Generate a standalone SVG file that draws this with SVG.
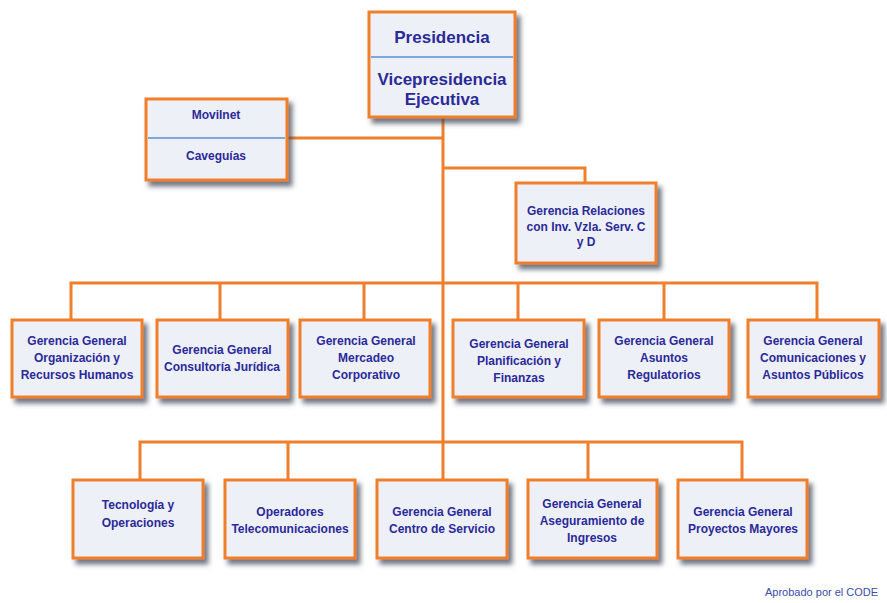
<svg xmlns="http://www.w3.org/2000/svg" width="887" height="603" viewBox="0 0 887 603">
<defs>
<filter id="sh" x="-10%" y="-10%" width="130%" height="130%">
<feDropShadow dx="4" dy="5" stdDeviation="2.5" flood-color="#404858" flood-opacity="0.75"/>
</filter>
<style>
.box{fill:#eef0f8;stroke:#f07f2c;stroke-width:3;filter:url(#sh)}
.div{stroke:#5a8fd0;stroke-width:1.5}
.t{font-family:"Liberation Sans",Arial,sans-serif;font-weight:bold;font-size:12px;fill:#2a2a98;text-anchor:middle}
.big{font-size:17px}
.c{fill:none;stroke:#f07f2c;stroke-width:3}
.foot{font-family:"Liberation Sans",Arial,sans-serif;font-size:11px;fill:#3b4ba8}
</style>
</defs>
<rect width="887" height="603" fill="#ffffff"/>
<g id="connectors">
<path class="c" d="M443 117 V442"/>
<path class="c" d="M287 138 H443"/>
<path class="c" d="M443 168 H585 V183"/>
<path class="c" d="M71 320 V283 H817 V320"/>
<path class="c" d="M220 283 V320 M364 283 V320 M518 283 V320 M664 283 V320"/>
<path class="c" d="M140 480 V442 H742 V480"/>
<path class="c" d="M288 442 V480 M443 442 V480 M588 442 V480"/>
</g>
<g id="presidencia">
<rect class="box" x="369" y="12" width="146" height="105"/>
<line class="div" x1="371" y1="57" x2="513" y2="57"/>
<text class="t big" x="442" y="43">Presidencia</text>
<text class="t big" x="442" y="85">Vicepresidencia</text>
<text class="t big" x="442" y="105">Ejecutiva</text>
</g>
<g id="movilnet">
<rect class="box" x="146" y="99" width="141" height="81"/>
<line class="div" x1="148" y1="138" x2="285" y2="138"/>
<text class="t" x="216" y="119">Movilnet</text>
<text class="t" x="216" y="160">Caveguías</text>
</g>
<g id="relaciones">
<rect class="box" x="516" y="183" width="140" height="80"/>
<text class="t" x="586" y="215">Gerencia Relaciones</text>
<text class="t" x="586" y="231">con Inv. Vzla. Serv. C</text>
<text class="t" x="586" y="246">y D</text>
</g>
<g id="organizacion">
<rect class="box" x="12" y="320" width="130" height="77"/>
<text class="t" x="77" y="345">Gerencia General</text>
<text class="t" x="77" y="362">Organización y</text>
<text class="t" x="77" y="379">Recursos Humanos</text>
</g>
<g id="juridica">
<rect class="box" x="157" y="320" width="131" height="77"/>
<text class="t" x="222" y="354">Gerencia General</text>
<text class="t" x="222" y="371">Consultoría Jurídica</text>
</g>
<g id="mercadeo">
<rect class="box" x="300" y="320" width="130" height="77"/>
<text class="t" x="366" y="345">Gerencia General</text>
<text class="t" x="366" y="362">Mercadeo</text>
<text class="t" x="366" y="379">Corporativo</text>
</g>
<g id="planificacion">
<rect class="box" x="453" y="320" width="131" height="77"/>
<text class="t" x="519" y="348">Gerencia General</text>
<text class="t" x="519" y="365">Planificación y</text>
<text class="t" x="519" y="382">Finanzas</text>
</g>
<g id="regulatorios">
<rect class="box" x="599" y="320" width="130" height="77"/>
<text class="t" x="664" y="345">Gerencia General</text>
<text class="t" x="664" y="362">Asuntos</text>
<text class="t" x="664" y="379">Regulatorios</text>
</g>
<g id="comunicaciones">
<rect class="box" x="748" y="320" width="131" height="77"/>
<text class="t" x="813" y="345">Gerencia General</text>
<text class="t" x="813" y="362">Comunicaciones y</text>
<text class="t" x="813" y="379">Asuntos Públicos</text>
</g>
<g id="tecnologia">
<rect class="box" x="73" y="480" width="130" height="78"/>
<text class="t" x="138" y="509">Tecnología y</text>
<text class="t" x="138" y="527">Operaciones</text>
</g>
<g id="operadores">
<rect class="box" x="225" y="480" width="130" height="78"/>
<text class="t" x="290" y="516">Operadores</text>
<text class="t" x="290" y="533">Telecomunicaciones</text>
</g>
<g id="centro">
<rect class="box" x="377" y="480" width="130" height="78"/>
<text class="t" x="442" y="516">Gerencia General</text>
<text class="t" x="442" y="533">Centro de Servicio</text>
</g>
<g id="aseguramiento">
<rect class="box" x="528" y="480" width="129" height="78"/>
<text class="t" x="592" y="508">Gerencia General</text>
<text class="t" x="592" y="525">Aseguramiento de</text>
<text class="t" x="592" y="542">Ingresos</text>
</g>
<g id="proyectos">
<rect class="box" x="678" y="480" width="129" height="78"/>
<text class="t" x="743" y="516">Gerencia General</text>
<text class="t" x="743" y="533">Proyectos Mayores</text>
</g>
<text class="foot" x="765" y="596">Aprobado por el CODE</text>
</svg>
